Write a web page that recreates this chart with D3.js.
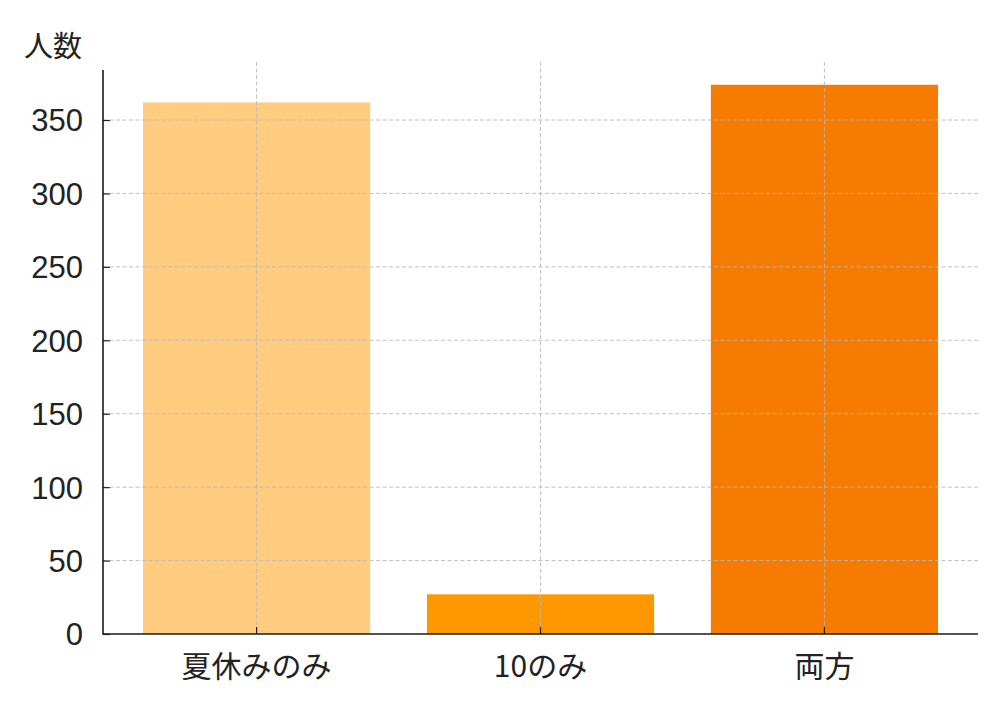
<!DOCTYPE html>
<html>
<head>
<meta charset="utf-8">
<script src="https://cdn.jsdelivr.net/npm/d3@7"></script>
<style>
  body { margin: 0; background: #fff; }
  svg { display: block; }
  text { font-family: "Noto Sans CJK JP", "Noto Sans", sans-serif; fill: #222; }
</style>
</head>
<body>
<svg id="chart" width="1000" height="714"></svg>
<script>
const categories = ["夏休みのみ", "10のみ", "両方"];
const values = [362, 27, 374];
const colors = ["#FFCC80", "#FF9800", "#F57C00"];
const yTicks = [0, 50, 100, 150, 200, 250, 300, 350];
const yLabel = "人数";

const svg = d3.select("#chart");
const mLeft = 103, mRight = 978, mTop = 62, mBottom = 634;
const fontSize = 30;

const x = d3.scaleBand().domain(categories).range([mLeft, mRight])
  .paddingInner(0.2).paddingOuter(0.141);
const y = d3.scaleLinear().domain([0, 389.5]).range([mBottom, mTop]);

// bars
svg.append("g").selectAll("rect").data(values).join("rect")
  .attr("x", (d, i) => x(categories[i]))
  .attr("width", x.bandwidth())
  .attr("y", d => y(d))
  .attr("height", d => y(0) - y(d))
  .attr("fill", (d, i) => colors[i]);

// grid on top
const grid = svg.append("g").attr("stroke", "#b9b9b9").attr("stroke-width", 0.9)
  .attr("stroke-dasharray", "4,2.5").attr("fill", "none");
grid.selectAll("line.h").data(yTicks.filter(t => t > 0)).join("line").attr("class", "h")
  .attr("x1", mLeft).attr("x2", mRight)
  .attr("y1", d => y(d)).attr("y2", d => y(d));
grid.selectAll("line.v").data(categories).join("line").attr("class", "v")
  .attr("x1", d => x(d) + x.bandwidth() / 2).attr("x2", d => x(d) + x.bandwidth() / 2)
  .attr("y1", mTop).attr("y2", mBottom);

// y axis
const yAxis = svg.append("g").attr("transform", `translate(${mLeft},0)`)
  .call(d3.axisLeft(y).tickValues(yTicks).tickSize(-7).tickPadding(20));
yAxis.select(".domain").remove();
yAxis.selectAll(".tick line").attr("stroke", "#222").attr("stroke-width", 1.2);
yAxis.selectAll("text").attr("font-size", 31).attr("fill", "#222")
  .attr("dy", "0.35em")
  .style("font-family", '"Liberation Sans", Arial, sans-serif');

// x axis
const xAxis = svg.append("g").attr("transform", `translate(0,${mBottom})`)
  .call(d3.axisBottom(x).tickSize(-7).tickPadding(0));
xAxis.select(".domain").remove();
xAxis.selectAll(".tick line").attr("stroke", "#222").attr("stroke-width", 1.2);
xAxis.selectAll("text").attr("font-size", fontSize).attr("fill", "#222")
  .attr("y", 43).attr("dy", 0)
  .style("font-family", '"Noto Sans CJK JP", sans-serif');

// spines
svg.append("line").attr("x1", mLeft).attr("x2", mLeft)
  .attr("y1", y(384)).attr("y2", mBottom + 0.8)
  .attr("stroke", "#1a1a1a").attr("stroke-width", 1.6);
svg.append("line").attr("x1", mLeft).attr("x2", mRight)
  .attr("y1", mBottom).attr("y2", mBottom)
  .attr("stroke", "#1a1a1a").attr("stroke-width", 1.6);

// y label
svg.append("text").attr("x", 24).attr("y", 57)
  .attr("font-size", fontSize - 1).text(yLabel);
</script>
</body>
</html>
